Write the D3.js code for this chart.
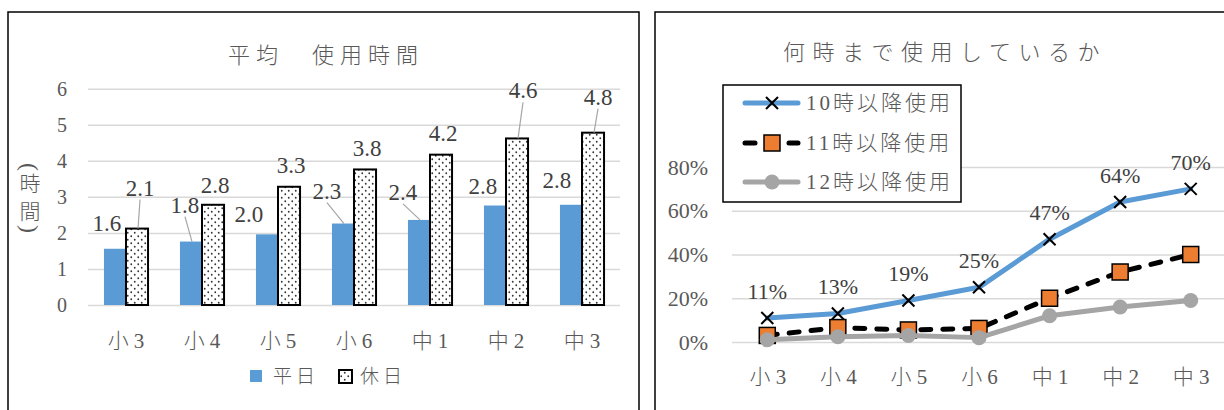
<!DOCTYPE html>
<html>
<head>
<meta charset="utf-8">
<script src="https://cdn.jsdelivr.net/npm/d3@7"></script>
<style>
  body { margin: 0; background: #fff; }
  svg { display: block; }
  text { font-family: 'Liberation Serif', 'Noto Sans CJK JP', serif; font-weight: 300; }
</style>
</head>
<body>
<svg id="chart" width="1224" height="410"></svg>
<script>
/* globals d3 */
// grades shared by both charts
const categories = ['小 3', '小 4', '小 5', '小 6', '中 1', '中 2', '中 3'];

// left chart: average hours of use
const weekdayHours = [1.56, 1.76, 1.96, 2.26, 2.36, 2.76, 2.78];
const holidayHours = [2.12, 2.78, 3.28, 3.76, 4.17, 4.62, 4.78];
const hourTicks = [0, 1, 2, 3, 4, 5, 6];

// right chart: share still using after a given hour
const after10 = [0.11, 0.13, 0.19, 0.25, 0.47, 0.64, 0.70];
const after11 = [0.03, 0.066, 0.055, 0.062, 0.20, 0.32, 0.40];
const after12 = [0.01, 0.024, 0.03, 0.02, 0.12, 0.16, 0.19];
const percentTicks = [0, 0.2, 0.4, 0.6, 0.8];

// where Excel left the moved data labels, relative to the bar top
const weekdayLabelShift = [[-8, -26], [-6, -37], [-18, -20], [-16, -33], [-16, -28], [-12, -20], [-14, -25]];
const holidayLabelShift = [[3, -41], [2, -20], [2, -22], [2, -22], [2, -22], [6, -48], [5, -36]];
const weekdayLeader = [false, true, false, true, true, false, false];
const holidayLeader = [true, false, false, false, false, true, true];

const svg = d3.select('#chart');
const GRID = '#d9d9d9';
const TEXT = '#595959';
const LABEL = '#404040';
const BLUE = '#5b9bd5';

const defs = svg.append('defs');
const dots = defs.append('pattern')
  .attr('id', 'dots')
  .attr('patternUnits', 'userSpaceOnUse')
  .attr('width', 7)
  .attr('height', 7);
dots.append('rect').attr('width', 7).attr('height', 7).attr('fill', '#fff');
dots.append('circle').attr('cx', 1.75).attr('cy', 1.75).attr('r', 0.9).attr('fill', '#333');
dots.append('circle').attr('cx', 5.25).attr('cy', 5.25).attr('r', 0.9).attr('fill', '#333');

svg.append('rect').attr('width', 1224).attr('height', 410).attr('fill', '#fff');

// chart frames
svg.append('rect')
  .attr('x', 8).attr('y', 12).attr('width', 631).attr('height', 420)
  .attr('fill', 'none').attr('stroke', '#000').attr('stroke-width', 1.5);
svg.append('rect')
  .attr('x', 655).attr('y', 12).attr('width', 600).attr('height', 420)
  .attr('fill', 'none').attr('stroke', '#000').attr('stroke-width', 1.5);

function styleGrid (g, size) {
  g.select('.domain').remove();
  g.selectAll('.tick line').attr('stroke', GRID).attr('stroke-width', 1.5);
  g.selectAll('.tick text').attr('fill', TEXT).attr('font-size', size);
}

function styleCategories (g, y) {
  g.select('.domain').remove();
  g.selectAll('.tick line').remove();
  g.selectAll('.tick text')
    .attr('y', y)
    .attr('dy', '0.35em')
    .attr('fill', TEXT)
    .attr('font-size', 21);
}

// ---------- left: 平均 使用時間 ----------
{
  const left = 88;
  const right = 620;
  const x0 = d3.scaleBand().domain(categories).range([left, right])
    .paddingInner(0.42).paddingOuter(0.21);
  const x1 = d3.scaleBand().domain(['weekday', 'holiday']).range([0, x0.bandwidth()]);
  const y = d3.scaleLinear().domain([0, 6]).range([305, 88.7]);

  svg.append('text')
    .attr('x', 326).attr('y', 55).attr('dy', '0.35em')
    .attr('text-anchor', 'middle')
    .attr('font-size', 22).attr('letter-spacing', 6)
    .attr('fill', TEXT)
    .text('平均　使用時間');

  svg.append('g')
    .attr('transform', `translate(${left},0)`)
    .call(d3.axisLeft(y).tickValues(hourTicks).tickFormat(d3.format('d'))
      .tickSize(-(right - left)).tickPadding(21))
    .call(g => styleGrid(g, 20));

  svg.append('g')
    .attr('transform', `translate(0,${y(0)})`)
    .call(d3.axisBottom(x0).tickSize(0))
    .call(g => styleCategories(g, 36));

  // vertical axis title: brackets turned on their side around 時間
  const axisTitle = ['(', '時', '間', ')'];
  const titleY = [167, 184, 212, 229];
  svg.append('g').selectAll('text')
    .data(axisTitle)
    .join('text')
    .attr('transform', (d, i) => `translate(30,${titleY[i]})` + (i === 0 || i === 3 ? ' rotate(90)' : ''))
    .attr('dy', '0.35em')
    .attr('text-anchor', 'middle')
    .attr('font-size', (d, i) => (i === 0 || i === 3 ? 24 : 21))
    .attr('fill', TEXT)
    .text(d => d);

  const weekdayCx = c => x0(c) + x1('weekday') + x1.bandwidth() / 2;
  const holidayCx = c => x0(c) + x1('holiday') + x1.bandwidth() / 2;

  svg.append('g').selectAll('rect')
    .data(weekdayHours)
    .join('rect')
    .attr('x', (d, i) => x0(categories[i]) + x1('weekday'))
    .attr('y', d => y(d))
    .attr('width', x1.bandwidth())
    .attr('height', d => y(0) - y(d))
    .attr('fill', BLUE);

  svg.append('g').selectAll('rect')
    .data(holidayHours)
    .join('rect')
    .attr('x', (d, i) => x0(categories[i]) + x1('holiday'))
    .attr('y', d => y(d))
    .attr('width', x1.bandwidth())
    .attr('height', d => y(0) - y(d))
    .attr('fill', 'url(#dots)')
    .attr('stroke', '#000')
    .attr('stroke-width', 2);

  const fmt = d3.format('.1f');
  const drawLabels = (values, cx, shift, leader) => {
    const g = svg.append('g');
    values.forEach((v, i) => {
      const bx = cx(categories[i]);
      const lx = bx + shift[i][0];
      const ly = y(v) + shift[i][1];
      if (leader[i]) {
        g.append('line')
          .attr('x1', lx).attr('y1', ly + 12)
          .attr('x2', bx + 1).attr('y2', y(v))
          .attr('stroke', '#a6a6a6').attr('stroke-width', 1.2);
      }
      g.append('text')
        .attr('x', lx).attr('y', ly).attr('dy', '0.35em')
        .attr('text-anchor', 'middle')
        .attr('font-size', 23)
        .attr('fill', LABEL)
        .text(fmt(v));
    });
  };
  drawLabels(weekdayHours, weekdayCx, weekdayLabelShift, weekdayLeader);
  drawLabels(holidayHours, holidayCx, holidayLabelShift, holidayLeader);

  // legend
  const legend = svg.append('g');
  legend.append('rect').attr('x', 250).attr('y', 370).attr('width', 12).attr('height', 12).attr('fill', BLUE);
  legend.append('text').attr('x', 273).attr('y', 376).attr('dy', '0.35em')
    .attr('font-size', 19).attr('letter-spacing', 4).attr('fill', TEXT).text('平日');
  legend.append('rect').attr('x', 339).attr('y', 370).attr('width', 13).attr('height', 13)
    .attr('fill', 'url(#dots)').attr('stroke', '#000').attr('stroke-width', 2);
  legend.append('text').attr('x', 360).attr('y', 376).attr('dy', '0.35em')
    .attr('font-size', 19).attr('letter-spacing', 4).attr('fill', TEXT).text('休日');
}

// ---------- right: 何時まで使用しているか ----------
{
  const left = 732;
  const right = 1226;
  const x = d3.scalePoint().domain(categories).range([left, right]).padding(0.5);
  const y = d3.scaleLinear().domain([0, 0.8]).range([342, 167]);

  svg.append('text')
    .attr('x', 945).attr('y', 52).attr('dy', '0.35em')
    .attr('text-anchor', 'middle')
    .attr('font-size', 22).attr('letter-spacing', 7.5)
    .attr('fill', TEXT)
    .text('何時まで使用しているか');

  svg.append('g')
    .attr('transform', `translate(${left},0)`)
    .call(d3.axisLeft(y).tickValues(percentTicks).tickFormat(d3.format('.0%'))
      .tickSize(-(right - left)).tickPadding(24))
    .call(g => styleGrid(g, 22));

  svg.append('g')
    .attr('transform', `translate(0,${y(0)})`)
    .call(d3.axisBottom(x).tickSize(0))
    .call(g => styleCategories(g, 35));

  const line = d3.line()
    .x((d, i) => x(categories[i]))
    .y(d => y(d));

  const series = [
    { name: '10時以降使用', values: after10, color: BLUE, dash: null, marker: 'cross' },
    { name: '11時以降使用', values: after11, color: '#000', dash: '10,12', marker: 'square' },
    { name: '12時以降使用', values: after12, color: '#a5a5a5', dash: null, marker: 'circle' }
  ];

  const drawMarker = (g, type, cx, cy) => {
    if (type === 'cross') {
      g.append('path')
        .attr('d', `M${cx - 6},${cy - 6}L${cx + 6},${cy + 6}M${cx - 6},${cy + 6}L${cx + 6},${cy - 6}`)
        .attr('stroke', '#000').attr('stroke-width', 2).attr('fill', 'none');
    } else if (type === 'square') {
      g.append('rect')
        .attr('x', cx - 8).attr('y', cy - 8).attr('width', 16).attr('height', 16)
        .attr('fill', '#ed7d31').attr('stroke', '#000').attr('stroke-width', 1.5);
    } else {
      g.append('circle')
        .attr('cx', cx).attr('cy', cy).attr('r', 7.5)
        .attr('fill', '#a5a5a5');
    }
  };

  series.forEach(s => {
    const g = svg.append('g');
    g.append('path')
      .attr('d', line(s.values))
      .attr('fill', 'none')
      .attr('stroke', s.color)
      .attr('stroke-width', 5)
      .attr('stroke-linecap', 'round')
      .attr('stroke-linejoin', 'round')
      .attr('stroke-dasharray', s.dash);
    s.values.forEach((v, i) => drawMarker(g, s.marker, x(categories[i]), y(v)));
  });

  // value labels on the 10時 series
  const pct = d3.format('.0%');
  svg.append('g').selectAll('text')
    .data(after10)
    .join('text')
    .attr('x', (d, i) => x(categories[i]))
    .attr('y', d => y(d) - 27)
    .attr('dy', '0.35em')
    .attr('text-anchor', 'middle')
    .attr('font-size', 22)
    .attr('fill', LABEL)
    .text(d => pct(d));

  // legend box
  const legend = svg.append('g');
  legend.append('rect')
    .attr('x', 723).attr('y', 85).attr('width', 238).attr('height', 117)
    .attr('fill', '#fff').attr('stroke', '#000').attr('stroke-width', 1.5);
  const rowY = [103, 143, 182];
  series.forEach((s, i) => {
    legend.append('line')
      .attr('x1', 745).attr('x2', 798)
      .attr('y1', rowY[i]).attr('y2', rowY[i])
      .attr('stroke', s.color).attr('stroke-width', 5)
      .attr('stroke-linecap', 'round')
      .attr('stroke-dasharray', s.dash);
    drawMarker(legend, s.marker, 772, rowY[i]);
    legend.append('text')
      .attr('x', 806).attr('y', rowY[i]).attr('dy', '0.35em')
      .attr('font-size', 21).attr('letter-spacing', 3)
      .attr('fill', TEXT)
      .text(s.name);
  });
}
</script>
</body>
</html>
